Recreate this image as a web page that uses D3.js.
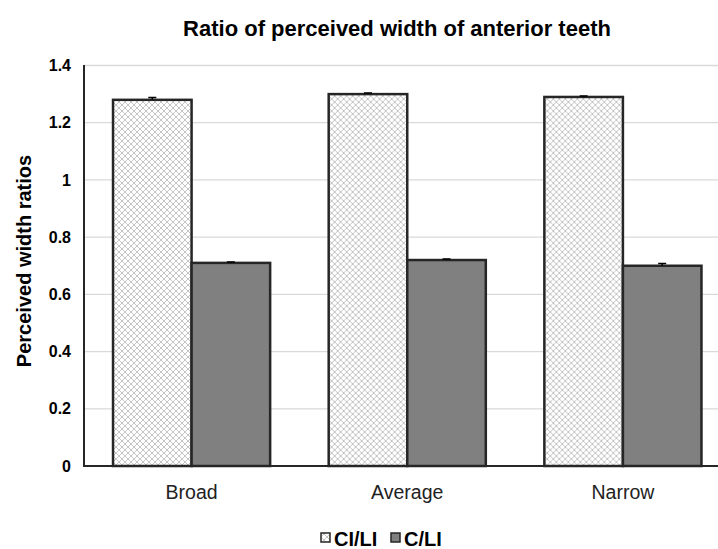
<!DOCTYPE html>
<html><head><meta charset="utf-8">
<script src="https://cdn.jsdelivr.net/npm/d3@7"></script>
<style>body{margin:0;background:#fff}svg{display:block}</style>
</head><body>
<svg id="c" width="718" height="549"></svg>
<script>
const categories = ["Broad", "Average", "Narrow"];
const seriesNames = ["CI/LI", "C/LI"];
const ciLi = [1.28, 1.30, 1.29];
const cLi = [0.71, 0.72, 0.70];
const ciLiErr = [0.008, 0.004, 0.003];
const cLiErr = [0.003, 0.004, 0.008];
const yTicks = [0, 0.2, 0.4, 0.6, 0.8, 1, 1.2, 1.4];

const svg = d3.select("#c");
const font = "Arial, 'Liberation Sans', sans-serif";
const defs = svg.append("defs");
const pat = defs.append("pattern").attr("id","hatch").attr("patternUnits","userSpaceOnUse")
  .attr("width",6).attr("height",6);
pat.append("rect").attr("width",6).attr("height",6).attr("fill","#fff");
pat.append("path").attr("d","M0,0L6,6M6,0L0,6").attr("stroke","#c4c4c4").attr("stroke-width",1);

const y = d3.scaleLinear().domain([0,1.4]).range([466,65.5]);
const x0 = d3.scaleBand().domain(categories).range([84,730.5]).paddingInner(0.2715).paddingOuter(0.1346);
const x1 = d3.scaleBand().domain(seriesNames).range([0,x0.bandwidth()]);

// gridlines
svg.append("g").selectAll("line").data(yTicks.filter(d=>d>0)).join("line")
  .attr("x1",84).attr("x2",718).attr("y1",d=>y(d)).attr("y2",d=>y(d))
  .attr("stroke","#d9d9d9").attr("stroke-width",1.3);

const data = categories.map((c,i)=>({c, vals:[
  {s:"CI/LI", v:ciLi[i], e:ciLiErr[i]},
  {s:"C/LI", v:cLi[i], e:cLiErr[i]}]}));

const g = svg.append("g").selectAll("g").data(data).join("g")
  .attr("transform",d=>`translate(${x0(d.c)},0)`);
g.selectAll("rect").data(d=>d.vals).join("rect")
  .attr("x",d=>x1(d.s)).attr("width",x1.bandwidth())
  .attr("y",d=>y(d.v)).attr("height",d=>y(0)-y(d.v))
  .attr("fill",d=>d.s==="CI/LI"?"url(#hatch)":"#808080")
  .attr("stroke","#262626").attr("stroke-width",2.5);
g.selectAll("path.err").data(d=>d.vals).join("path").attr("class","err")
  .attr("d",d=>{const cx=x1(d.s)+x1.bandwidth()/2;return `M${cx-4},${y(d.v+d.e)}H${cx+4}M${cx},${y(d.v+d.e)}V${y(d.v)}`;})
  .attr("stroke","#000").attr("stroke-width",1.5).attr("fill","none");

// axes
const yAxis = svg.append("g").attr("transform","translate(84,0)")
  .call(d3.axisLeft(y).tickValues(yTicks).tickSize(0).tickPadding(13).tickFormat(d=>d3.format("")(+d.toFixed(1))));
yAxis.select(".domain").remove();
yAxis.selectAll("text").attr("font-family",font).attr("font-size",16).attr("font-weight","bold").attr("fill","#000");
svg.append("line").attr("x1",84).attr("x2",84).attr("y1",65).attr("y2",467).attr("stroke","#262626").attr("stroke-width",2);

const xAxis = svg.append("g").attr("transform","translate(0,466)")
  .call(d3.axisBottom(x0).tickSize(0).tickPadding(19));
xAxis.select(".domain").remove();
xAxis.selectAll("text").attr("font-family",font).attr("font-size",19.5).attr("fill","#222");
svg.append("line").attr("x1",83).attr("x2",718).attr("y1",466).attr("y2",466).attr("stroke","#262626").attr("stroke-width",2.2);

svg.append("text").attr("x",397).attr("y",36).attr("text-anchor","middle")
  .attr("font-family",font).attr("font-size",22).attr("font-weight","bold").text("Ratio of perceived width of anterior teeth");
svg.append("text").attr("transform","translate(31,261) rotate(-90)").attr("text-anchor","middle")
  .attr("font-family",font).attr("font-size",20).attr("font-weight","bold").text("Perceived width ratios");

// legend
const leg = svg.append("g");
const legX = [321, 391];
seriesNames.forEach((s,i)=>{
  leg.append("rect").attr("x",legX[i]).attr("y",533).attr("width",9).attr("height",9)
    .attr("fill",i===0?"url(#hatch)":"#808080").attr("stroke","#262626").attr("stroke-width",1.5);
  leg.append("text").attr("x",legX[i]+13).attr("y",545.5).attr("font-family",font).attr("font-size",20)
    .attr("font-weight","bold").text(s);
});
</script>
</body></html>
